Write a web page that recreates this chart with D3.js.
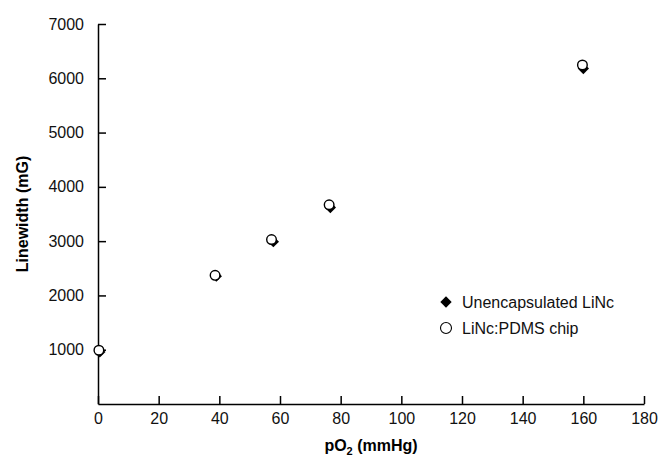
<!DOCTYPE html>
<html><head><meta charset="utf-8">
<script src="https://cdn.jsdelivr.net/npm/d3@7"></script>
<style>body{margin:0;background:#fff}svg{display:block}text{font-family:"Liberation Sans",Arial,sans-serif}</style>
</head><body>
<script>
const xTicks = [0,20,40,60,80,100,120,140,160,180];
const yTicks = [1000,2000,3000,4000,5000,6000,7000];
const unencX = [0.6, 39.0, 57.8, 76.6, 160.0];
const unencY = [960, 2355, 2990, 3620, 6180];
const pdmsX = [0.3, 38.6, 57.2, 76.2, 159.7];
const pdmsY = [990, 2370, 3030, 3670, 6245];
const seriesNames = ["Unencapsulated LiNc", "LiNc:PDMS chip"];

const W = 661, H = 460;
const svg = d3.select("body").append("svg").attr("width",W).attr("height",H);
const x = d3.scaleLinear().domain([0,180]).range([98, 644]);
const y = d3.scaleLinear().domain([0,7000]).range([404, 24]);

const gx = svg.append("g").attr("transform",`translate(0,${y(0)})`)
  .call(d3.axisBottom(x).tickValues(xTicks).tickFormat(d3.format("d")).tickSizeInner(-8).tickSizeOuter(0).tickPadding(6));
const gy = svg.append("g").attr("transform",`translate(${x(0)},0)`)
  .call(d3.axisLeft(y).tickValues(yTicks).tickFormat(d3.format("d")).tickSizeInner(-8).tickSizeOuter(0).tickPadding(22));
[gx,gy].forEach(g=>{
  g.selectAll("path,line").attr("stroke","#000").attr("stroke-width",1.5);
  g.selectAll("text").attr("font-size",16).attr("fill","#111").attr("font-family","Liberation Sans, Arial, sans-serif");
});
gx.selectAll(".tick text").attr("dy","0.9em");
gy.selectAll(".tick text").attr("dx","8");

svg.append("text").attr("x",(x(0)+x(180))/2).attr("y",451).attr("text-anchor","middle")
  .attr("font-size",16).attr("font-weight","bold")
  .html('pO<tspan dy="4" font-size="11">2</tspan><tspan dy="-4"> (mmHg)</tspan>');
svg.append("text").attr("transform",`translate(28,${(y(0)+y(7000))/2}) rotate(-90)`)
  .attr("text-anchor","middle").attr("font-size",16).attr("font-weight","bold").text("Linewidth (mG)");

const unenc = unencX.map((v,i)=>[v,unencY[i]]);
const pdms = pdmsX.map((v,i)=>[v,pdmsY[i]]);
svg.append("g").selectAll("path").data(unenc).join("path")
  .attr("d", d3.symbol().type(d3.symbolSquare).size(64))
  .attr("transform",d=>`translate(${x(d[0])},${y(d[1])}) rotate(45)`).attr("fill","#000");
svg.append("g").selectAll("circle").data(pdms).join("circle")
  .attr("cx",d=>x(d[0])).attr("cy",d=>y(d[1])).attr("r",4.8)
  .attr("fill","#fff").attr("stroke","#000").attr("stroke-width",1.4);

const lg = svg.append("g");
lg.append("path").attr("d", d3.symbol().type(d3.symbolSquare).size(64)())
  .attr("transform","translate(446,302) rotate(45)").attr("fill","#000");
lg.append("text").attr("x",462).attr("y",307.5).attr("font-size",16).attr("fill","#111").text(seriesNames[0]);
lg.append("circle").attr("cx",446).attr("cy",328).attr("r",5.5).attr("fill","#fff").attr("stroke","#000").attr("stroke-width",1.1);
lg.append("text").attr("x",462).attr("y",333.5).attr("font-size",16).attr("fill","#111").text(seriesNames[1]);
</script>
</body></html>
